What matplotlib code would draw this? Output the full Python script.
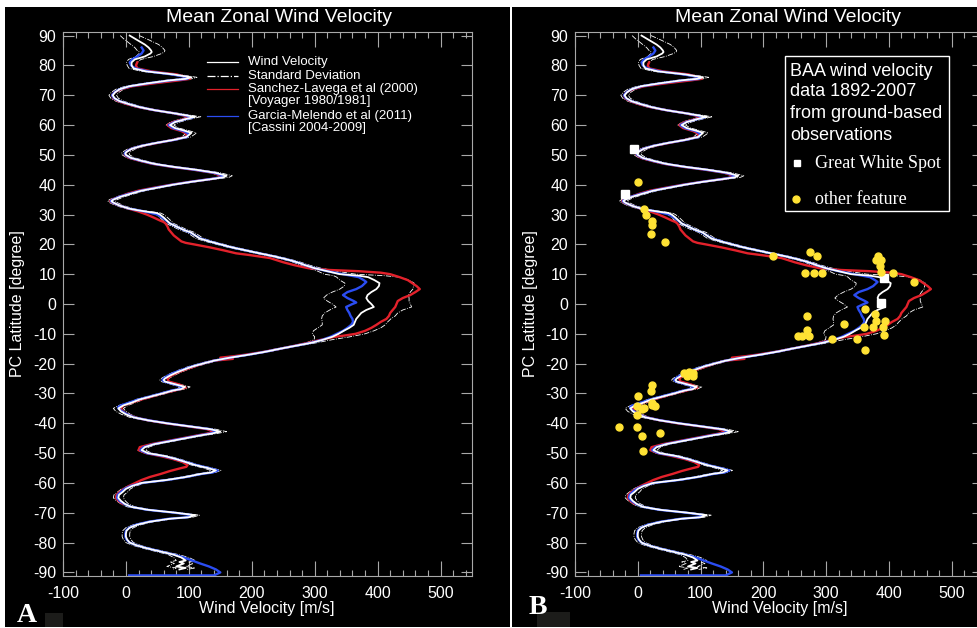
''' plot.py - mean zonal wind velocity profiles of Saturn '''
import numpy as np
import matplotlib
matplotlib.use('Agg')
import matplotlib.pyplot as plt
from matplotlib.patches import Rectangle
from matplotlib.lines import Line2D
from matplotlib.ticker import MultipleLocator

plt.rcParams['font.family'] = ['Liberation Sans', 'DejaVu Sans']
plt.rcParams['axes.unicode_minus'] = False

# mean wind velocity profile: (latitude, velocity m/s, standard deviation)
wind_profile = [
    (90, 6, 15), (89, 14, 18), (88, 22, 20), (87, 30, 22), (86, 36, 22),
    (85, 40, 22), (84.5, 41, 20), (84, 39, 18), (83, 30, 14), (82, 14, 10),
    (81, 9, 8), (80, 9, 7), (79, 12, 7), (78, 32, 7), (77, 75, 8),
    (76, 104, 9), (75.5, 95, 9), (75, 70, 8), (74, 35, 7), (73, 5, 6),
    (72, -10, 6), (71, -17, 6), (70, -21, 6), (69, -18, 6), (68, -10, 6),
    (67, 5, 6), (66, 22, 6), (65, 45, 6), (64, 75, 7), (63, 103, 8),
    (62.8, 110, 9), (62, 95, 8), (61, 78, 7), (60, 70, 6), (59, 78, 6),
    (58, 95, 7), (57.4, 104, 8), (57, 102, 8), (56, 96, 7), (55, 75, 6),
    (54, 48, 6), (53, 25, 6), (52, 9, 6), (51, 1, 6), (50.5, -1, 6),
    (50, 0, 6), (49, 8, 6), (48, 25, 6), (47, 45, 6), (46, 75, 6),
    (45, 112, 7), (44, 142, 8), (43, 160, 9), (42.5, 155, 9), (42, 140, 8),
    (41, 105, 7), (40, 75, 6), (39, 50, 6), (38, 25, 6), (37, 8, 6),
    (36, -8, 6), (35, -20, 6), (34.5, -23, 6), (34, -20, 6), (33, -10, 6),
    (32, 5, 6), (31.5, 17, 6), (31, 32, 6), (30.5, 49, 6), (30, 54, 6),
    (29, 60, 6), (28, 65, 6), (27, 70, 6), (26, 80, 6), (25, 90, 6),
    (24, 103, 6), (23, 110, 6), (22, 117, 6), (21, 132, 6), (20, 150, 6),
    (19, 168, 6), (18, 190, 6), (17, 212, 6), (16, 235, 6), (15, 255, 6),
    (14, 272, 6), (13, 285, 7), (12, 300, 10), (11, 320, 15), (10, 340, 25),
    (9.5, 370, 40), (9, 385, 50), (8, 395, 55), (7, 403, 55), (6, 402, 55),
    (5, 398, 58), (4, 390, 62), (3, 384, 65), (2, 382, 68), (1, 385, 65),
    (0, 390, 62), (-1, 394, 60), (-2, 382, 58), (-3, 374, 58), (-4, 370, 58),
    (-5, 366, 55), (-6, 364, 52), (-7, 362, 50), (-8, 355, 50), (-9, 346, 48),
    (-10, 338, 42), (-11, 328, 28), (-12, 313, 14), (-13, 295, 8),
    (-14, 270, 6), (-15, 245, 6), (-16, 222, 6), (-17, 195, 6), (-18, 165, 6),
    (-19, 140, 6), (-20, 122, 6), (-21, 105, 6), (-22, 92, 6), (-23, 80, 6),
    (-24, 70, 6), (-25, 62, 6), (-25.5, 60, 6), (-26, 62, 6), (-27, 80, 7),
    (-27.8, 94, 8), (-28.5, 88, 7), (-29, 75, 6), (-30, 58, 6), (-31, 40, 6),
    (-32, 22, 6), (-33, 10, 6), (-34, -4, 7), (-35, -12, 8), (-36, -8, 8),
    (-37, 0, 7), (-38, 12, 6), (-39, 35, 6), (-40, 65, 6), (-41, 100, 7),
    (-42, 135, 8), (-42.8, 150, 10), (-43.5, 135, 8), (-44, 120, 7),
    (-45, 95, 6), (-46, 70, 6), (-47, 45, 6), (-48, 30, 6), (-49, 25, 6),
    (-50, 35, 6), (-51, 62, 6), (-52, 80, 6), (-53, 95, 6), (-54, 110, 6),
    (-55, 130, 7), (-55.8, 143, 8), (-56.5, 135, 7), (-57, 118, 6),
    (-58, 95, 6), (-59, 65, 6), (-60, 25, 6), (-61, 10, 6), (-62, 0, 7),
    (-63, -5, 8), (-64, -11, 8), (-65, -12, 8), (-66, -8, 7), (-67, -2, 6),
    (-68, 8, 6), (-69, 35, 6), (-70, 80, 6), (-70.8, 110, 7), (-71.5, 100, 6),
    (-72, 70, 6), (-73, 38, 6), (-74, 18, 6), (-75, 6, 6), (-76, 1, 6),
    (-77, 0, 6), (-78, 0, 6), (-79, 2, 6), (-80, 6, 6), (-81, 18, 6),
    (-82, 35, 6), (-83, 55, 7), (-84, 75, 8), (-85, 88, 12), (-86, 95, 15),
    (-86.5, 85, 15), (-87, 92, 15), (-88, 80, 15), (-88.5, 95, 15),
    (-89, 85, 12),
]

# Sanchez-Lavega et al (2000), Voyager: (latitude, velocity)
voyager_profile = [
    (81, 18), (80, 16), (79, 18), (78, 40), (77, 80), (76, 98), (75.5, 102),
    (75, 85), (74, 45), (73, 10), (72, -8), (71, -18), (70, -22), (69, -20),
    (68, -12), (67, 2), (66, 20), (65, 45), (64, 75), (63, 96), (62.5, 100),
    (62, 92), (61, 75), (60, 66), (59, 72), (58, 88), (57, 97), (56, 95),
    (55, 75), (54, 50), (53, 25), (52, 8), (51, 0), (50, -2), (49, 5),
    (48, 22), (47, 42), (46, 72), (45, 108), (44, 138), (43, 152),
    (42.5, 150), (42, 138), (41, 103), (40, 72), (39, 45), (38, 20), (37, 3),
    (36, -10), (35, -22), (34.5, -25), (34, -22), (33, -10), (32, 4),
    (31, 20), (30, 33), (29, 44), (28, 54), (27.5, 60), (27, 63), (26, 66),
    (25, 68), (24, 72), (23, 76), (22, 82), (21, 88), (20.5, 95), (20, 108),
    (19, 133), (18, 155), (17, 175), (16.4, 197), (15.4, 229), (14, 250),
    (13, 268), (12, 290), (11.4, 324), (11, 370), (10.5, 405), (10, 420),
    (9, 435), (8, 448), (7, 455), (6, 462), (5, 467), (4, 460), (3, 452),
    (2, 440), (1, 432), (0, 430), (-1, 428), (-2, 424), (-3, 420), (-4, 418),
    (-5, 414), (-6, 405), (-7, 398), (-8, 390), (-9, 380), (-10, 365),
    (-10.5, 350), (-11, 332), (-12, 310), (-13, 290), (-14, 268), (-15, 245),
    (-16, 220), (-17, 190), (-17.5, 172), (-18, 150), (-18.4, 170),
    (-19, 140), (-20, 122), (-21, 108), (-22, 94), (-23, 82), (-24, 72),
    (-25, 66), (-26, 68), (-27, 85), (-28, 95), (-29, 78), (-30, 58),
    (-31, 42), (-32, 25), (-33, 10), (-34, -4), (-35, -8), (-36, -5),
    (-37, 2), (-38, 14), (-39, 35), (-40, 63), (-41, 98), (-42, 130),
    (-42.8, 140), (-43.5, 128), (-44, 115), (-45, 90), (-46, 65), (-47, 40),
    (-48, 22), (-49, 20), (-50, 32), (-51, 55), (-52, 75), (-53, 90),
    (-54, 98), (-54.6, 96), (-55, 88), (-56, 70), (-57, 55), (-58, 38),
    (-59, 25), (-60, 15), (-61, 5), (-62, -3), (-63, -10), (-64, -15),
    (-65, -16), (-66, -12), (-67, -5),
]

# Garcia-Melendo et al (2011), Cassini: (latitude, velocity)
cassini_profile = [
    (86, 25), (85, 28), (84, 25), (83, 18), (82, 10), (81, 6), (80, 8),
    (79, 15), (78, 35), (77, 72), (76, 100), (75.5, 98), (75, 72), (74, 36),
    (73, 6), (72, -10), (71, -18), (70, -22), (69, -19), (68, -10), (67, 5),
    (66, 22), (65, 45), (64, 75), (63, 100), (62.5, 106), (62, 95), (61, 77),
    (60, 68), (59, 75), (58, 92), (57, 100), (56, 97), (55, 76), (54, 48),
    (53, 24), (52, 8), (51, 0), (50.5, -2), (50, -1), (49, 7), (48, 24),
    (47, 44), (46, 74), (45, 110), (44, 140), (43, 156), (42.5, 152),
    (42, 138), (41, 104), (40, 74), (39, 48), (38, 24), (37, 6), (36, -10),
    (35, -21), (34.5, -24), (34, -21), (33, -10), (32, 5), (31, 30),
    (30, 50), (29, 58), (28, 64), (27, 70), (26, 80), (25, 90), (24, 102),
    (23, 110), (22, 118), (21, 133), (20, 150), (19, 168), (18, 190),
    (17, 212), (16, 235), (15, 255), (14, 272), (13, 285), (12, 300),
    (11, 320), (10, 345), (9, 370), (8, 378), (7.4, 382), (6, 375), (5, 366),
    (4, 352), (3, 345), (2, 352), (1, 362), (0.5, 366), (0, 360), (-1, 350),
    (-2, 352), (-3, 355), (-4, 357), (-5, 360), (-6, 361), (-7, 358),
    (-8, 352), (-9, 345), (-10, 335), (-11, 325), (-12, 312), (-13, 294),
    (-14, 270), (-15, 245), (-16, 222), (-17, 195), (-18, 165), (-19, 140),
    (-20, 121), (-21, 104), (-22, 90), (-23, 77), (-24, 67), (-25, 60),
    (-25.5, 58), (-26, 61), (-27, 78), (-27.8, 90), (-28.5, 86), (-29, 73),
    (-30, 56), (-31, 38), (-32, 20), (-33, 6), (-34, -8), (-34.5, -12),
    (-35, -12), (-36, -6), (-37, 2), (-38, 13), (-39, 36), (-40, 66),
    (-41, 100), (-42, 135), (-42.8, 146), (-43.5, 132), (-44, 118),
    (-45, 93), (-46, 68), (-47, 44), (-48, 28), (-49, 23), (-50, 33),
    (-51, 60), (-52, 80), (-53, 96), (-54, 112), (-55, 132), (-55.8, 146),
    (-56.5, 138), (-57, 120), (-58, 96), (-59, 66), (-60, 26), (-61, 8),
    (-62, -2), (-63, -8), (-64, -13), (-65, -14), (-66, -10), (-67, -3),
    (-68, 8), (-69, 34), (-70, 78), (-70.8, 106), (-71.5, 98), (-72, 68),
    (-73, 36), (-74, 16), (-75, 5), (-76, 0), (-77, -1), (-78, -1), (-79, 1),
    (-80, 6), (-81, 18), (-82, 36), (-83, 56), (-84, 76), (-85, 92),
    (-86, 105), (-87, 118), (-88, 132), (-89, 143), (-90, 150), (-91, 140),
    (-91, 5),
]

# BAA ground-based features: Great White Spot (velocity, latitude)
gws_vel = [-6, -21, 392, 387]
gws_lat = [52, 37, 8.7, 0.3]

# BAA ground-based features: other features (velocity, latitude)
other_vel = [0, 10, 13, 22, 22, 21, 43,
             216, 275, 286, 267, 280, 293,
             382, 379, 387, 386, 387, 406, 440,
             270, 270, 255, 262, 272, 328, 362, 378, 379, 394, 360, 374, 390,
             392, 350, 310, 362,
             74, 81, 88, 78, 88,
             22, 21, 0, 22, 27, 22, -2, 6, 10, -2, -30, -2, 35, 6, 8]
other_lat = [40.8, 31.8, 29.8, 27.8, 26.5, 23.5, 20.8,
             16.2, 17.5, 16.1, 10.5, 10.5, 10.5,
             16.1, 14.7, 14.7, 12.8, 10.8, 10.5, 7.5,
             -3.9, -8.7, -10.7, -10.7, -10.7, -6.7, -1.7, -3.4, -5.6, -5.6,
             -7.6, -7.6, -7.6, -10.4, -11.8, -11.8, -15.4,
             -23.2, -22.8, -23.1, -24.2, -24.2,
             -27.0, -29.2, -31.0, -33.2, -34.2, -33.9, -34.2, -35.2, -35.0,
             -37.2, -41.2, -41.2, -43.2, -44.2, -49.3]

W, H = 978, 628
RED = '#e3212b'
BLUE = '#2b4df2'
YELLOW = '#ffe234'
GREY = '#a8a8a8'


def fx(px):
    ''' pixel x -> figure fraction '''
    return px / W


def fy(py):
    ''' pixel y (from top) -> figure fraction '''
    return 1 - py / H


def draw_profiles(ax):
    ''' wind profiles, std band, axes styling '''
    lat_w, v_w, sd_w = np.array(wind_profile, dtype=float).T
    lat_r, v_r = np.array(voyager_profile, dtype=float).T
    lat_b, v_b = np.array(cassini_profile, dtype=float).T

    ax.plot(v_w - sd_w, lat_w, color='white', lw=0.6, ls='-.')
    ax.plot(v_w + sd_w, lat_w, color='white', lw=0.6, ls='-.')
    ax.plot(v_r, lat_r, color=RED, lw=1.7)
    ax.plot(v_b, lat_b, color=BLUE, lw=1.7)
    ax.plot(v_w, lat_w, color='white', lw=1.3)

    ax.set_facecolor('black')
    ax.set_xlim(-100, 550)
    ax.set_ylim(-91.2, 91.2)
    ax.xaxis.set_major_locator(MultipleLocator(100))
    ax.xaxis.set_minor_locator(MultipleLocator(20))
    ax.set_yticks(range(-90, 91, 10))
    ax.tick_params(which='both', direction='in', top=True, right=True,
                   colors=GREY, labelcolor='white', labelsize=11.5, width=0.8)
    ax.tick_params(axis='x', which='major', length=11, pad=7)
    ax.tick_params(axis='x', which='minor', length=4)
    ax.tick_params(axis='y', which='major', length=8, pad=5)
    for sp in ax.spines.values():
        sp.set_color(GREY)
        sp.set_linewidth(0.8)


def main():
    ''' build and save the figure '''
    fig = plt.figure(figsize=(W / 100, H / 100), dpi=100, facecolor='white')

    for x0, x1 in [(5, 510), (512, 978)]:
        fig.patches.append(Rectangle((fx(x0), fy(627)), (x1 - x0) / W,
                                     620 / H, transform=fig.transFigure,
                                     facecolor='black', edgecolor='none',
                                     zorder=-10))

    ax_a = fig.add_axes([fx(63), fy(576), 409 / W, 544 / H])
    ax_b = fig.add_axes([fx(575), fy(576), 408 / W, 544 / H])
    draw_profiles(ax_a)
    draw_profiles(ax_b)

    # panel B observations
    ax_b.plot(gws_vel, gws_lat, ls='none', marker='s', ms=5.5,
              color='white', zorder=5)
    ax_b.plot(other_vel, other_lat, ls='none', marker='o', ms=5,
              color=YELLOW, zorder=6)

    # titles and axis labels
    for cx, lx, ly in [(279, 267, 18), (788, 780, 531)]:
        fig.text(fx(cx), fy(17), 'Mean Zonal Wind Velocity', color='white',
                 fontsize=14, ha='center', va='center')
        fig.text(fx(lx), fy(608), 'Wind Velocity [m/s]', color='white',
                 fontsize=11.5, ha='center', va='center')
        fig.text(fx(ly), fy(304), 'PC Latitude [degree]', color='white',
                 fontsize=11.5, ha='center', va='center', rotation=90)

    # legend panel A
    leg = [(62, 'Wind Velocity', 'white', '-'),
           (76, 'Standard Deviation', 'white', '-.'),
           (89, 'Sanchez-Lavega et al (2000)', RED, '-'),
           (101, '[Voyager 1980/1981]', None, None),
           (116, 'Garcia-Melendo et al (2011)', BLUE, '-'),
           (128, '[Cassini 2004-2009]', None, None)]
    for y, label, col, ls in leg:
        if col is not None:
            fig.add_artist(Line2D([fx(207), fx(238)], [fy(y), fy(y)],
                                  color=col, ls=ls, lw=0.9, zorder=4))
        fig.text(fx(248), fy(y), label, color='white', fontsize=9.5,
                 ha='left', va='center', zorder=5)

    # legend panel B
    fig.patches.append(Rectangle((fx(785), fy(211)), 164 / W, 155 / H,
                                 transform=fig.transFigure, facecolor='black',
                                 edgecolor='white', lw=1, zorder=3))
    for y, line in [(71, 'BAA wind velocity'), (92, 'data 1892-2007'),
                    (113, 'from ground-based'), (135, 'observations')]:
        fig.text(fx(790), fy(y), line, color='white', fontsize=13,
                 ha='left', va='center', zorder=5)
    fig.add_artist(Line2D([fx(797)], [fy(163)], ls='none', marker='s',
                          ms=5, color='white', zorder=5))
    fig.text(fx(815), fy(163), 'Great White Spot', color='white',
             fontsize=13, family='Liberation Serif', ha='left', va='center',
             zorder=5)
    fig.add_artist(Line2D([fx(796)], [fy(199)], ls='none', marker='o',
                          ms=5, color=YELLOW, zorder=5))
    fig.text(fx(815), fy(200), 'other feature', color='white',
             fontsize=13, family='Liberation Serif', ha='left', va='center',
             zorder=5)

    # panel letters
    for (x0, y0, x1, y1), (tx, ty, letter) in [
            ((45, 613, 63, 627), (27, 616, 'A')),
            ((537, 612, 570, 627), (538, 607, 'B'))]:
        fig.patches.append(Rectangle((fx(x0), fy(y1)), (x1 - x0) / W,
                                     (y1 - y0) / H, transform=fig.transFigure,
                                     facecolor='#1c1c1a', edgecolor='none',
                                     zorder=4))
        fig.text(fx(tx), fy(ty), letter, color='white', fontsize=20,
                 family='Liberation Serif', weight='bold', ha='center',
                 va='center', zorder=5)

    fig.savefig('out.png', dpi=100, facecolor='white')


if __name__ == '__main__':
    main()
